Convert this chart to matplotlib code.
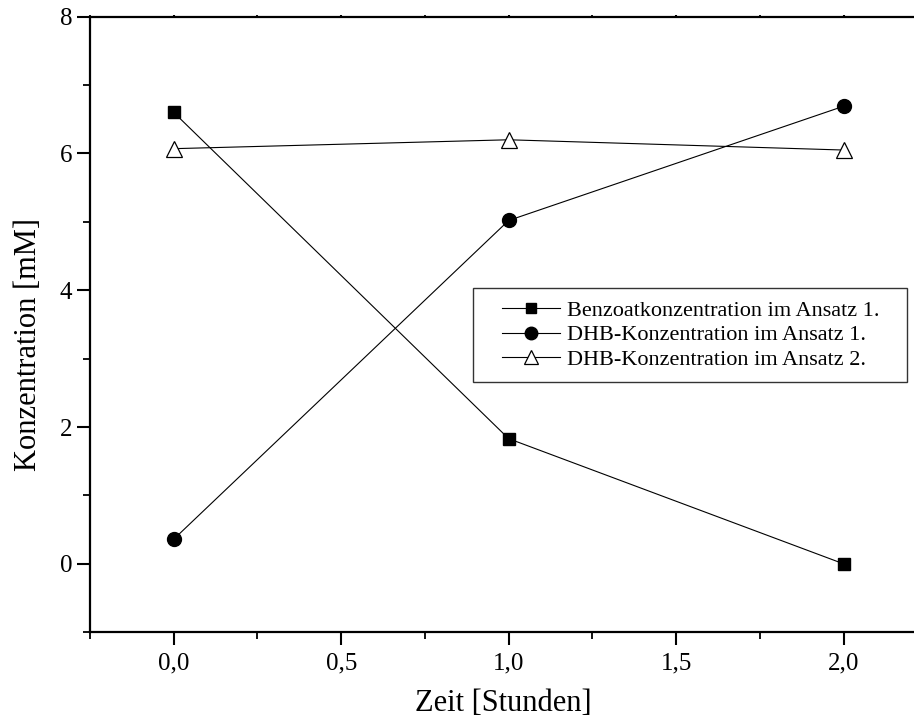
import matplotlib
matplotlib.use("Agg")
import matplotlib.pyplot as plt
from matplotlib.ticker import MultipleLocator, FuncFormatter
from matplotlib.legend_handler import HandlerLine2D

plt.rcParams['font.family'] = ['Liberation Serif', 'DejaVu Serif']

zeit = [0.0, 1.0, 2.0]
benzoat = [6.6, 1.83, 0.0]
dhb1 = [0.36, 5.02, 6.69]
dhb2 = [6.07, 6.2, 6.05]
labels = ["Benzoatkonzentration im Ansatz 1.",
          "DHB-Konzentration im Ansatz 1.",
          "DHB-Konzentration im Ansatz 2."]

fig = plt.figure(figsize=(9.14, 7.25), dpi=100)
ax = fig.add_axes([0.0985, 0.128, 0.905, 0.849])

l1, = ax.plot(zeit, benzoat, '-', color='black', lw=0.8, marker='s', ms=8, mfc='black', mec='black', label=labels[0])
l2, = ax.plot(zeit, dhb1, '-', color='black', lw=0.8, marker='o', ms=10, mfc='black', mec='black', label=labels[1])
l3, = ax.plot(zeit, dhb2, '-', color='black', lw=0.8, marker='^', ms=11, mfc='white', mec='black', mew=0.9, label=labels[2])

ax.set_xlim(-0.25, 2.22)
ax.set_ylim(-1, 8)

ax.spines['right'].set_visible(False)
for s in ['left', 'bottom', 'top']:
    ax.spines[s].set_linewidth(1.6)

ax.xaxis.set_major_locator(MultipleLocator(0.5))
ax.xaxis.set_minor_locator(MultipleLocator(0.25))
ax.yaxis.set_major_locator(MultipleLocator(2))
ax.yaxis.set_minor_locator(MultipleLocator(1))
ax.xaxis.set_major_formatter(FuncFormatter(lambda v, p: f"{v:.1f}".replace('.', ',')))
ax.tick_params(axis='both', which='major', direction='out', length=9.4, width=1.5, labelsize=18)
ax.tick_params(axis='x', which='major', pad=5)
ax.tick_params(axis='y', which='major', pad=3.5)
ax.tick_params(axis='both', which='minor', direction='out', length=5, width=1.3)
ax.tick_params(axis='x', which='both', top=True, labeltop=False)
for t in ax.xaxis.get_minor_ticks() + ax.xaxis.get_major_ticks():
    t.tick2line.set_markersize(1.5)

ax.set_xlabel("Zeit [Stunden]", fontsize=22, labelpad=11)
ax.set_ylabel("Konzentration [mM]", fontsize=22)
ax.yaxis.set_label_coords(-0.057, 0.467)

fs = 16
hm = {h: HandlerLine2D(xpad=0.75) for h in (l1, l2, l3)}
leg = ax.legend(handles=[l1, l2, l3], loc='upper left', bbox_to_anchor=(0.463, 0.559 - 0.151, 0.525, 0.151),
                mode='expand', borderaxespad=0, fontsize=fs, frameon=True, fancybox=False,
                edgecolor='black', handlelength=3.36, handletextpad=0.3, borderpad=0.55,
                labelspacing=0.18, markerscale=0.9, handler_map=hm)
leg.get_frame().set_linewidth(1.0)

fig.savefig("out.png", dpi=100)
